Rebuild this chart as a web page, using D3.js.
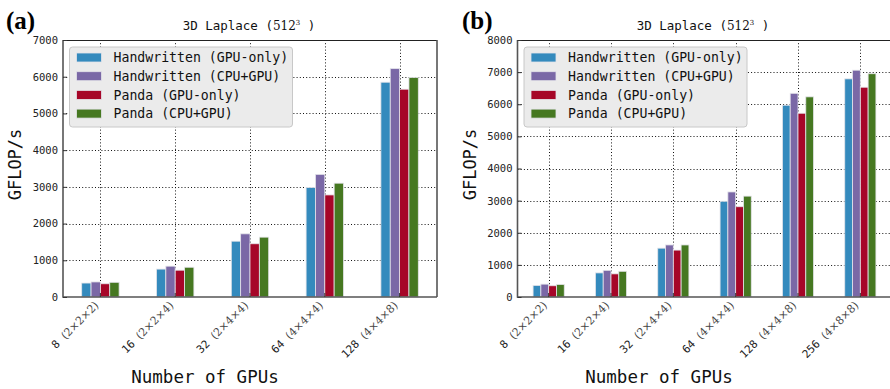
<!DOCTYPE html>
<html>
<head>
<meta charset="utf-8">
<script src="https://cdn.jsdelivr.net/npm/d3@7"></script>
<style>
  body { margin: 0; background: #fff; }
  svg { display: block; }
</style>
</head>
<body>
<svg id="chart" width="890" height="389"></svg>
<script>
// series shared by both panels
const series = ['Handwritten (GPU-only)', 'Handwritten (CPU+GPU)', 'Panda (GPU-only)', 'Panda (CPU+GPU)']
const colors = ['#348ABD', '#7A68A6', '#A60628', '#467821']

// panel (a)
const gpusA = ['8', '16', '32', '64', '128']
const shapesA = ['(2×2×2)', '(2×2×4)', '(2×4×4)', '(4×4×4)', '(4×4×8)']
const handGpuA = [380, 760, 1520, 2980, 5850]
const handCpuGpuA = [410, 840, 1720, 3340, 6220]
const pandaGpuA = [360, 730, 1450, 2780, 5660]
const pandaCpuGpuA = [400, 810, 1630, 3100, 5980]
const yTicksA = [0, 1000, 2000, 3000, 4000, 5000, 6000, 7000]

// panel (b)
const gpusB = ['8', '16', '32', '64', '128', '256']
const shapesB = ['(2×2×2)', '(2×2×4)', '(2×4×4)', '(4×4×4)', '(4×4×8)', '(4×8×8)']
const handGpuB = [360, 750, 1520, 2980, 5970, 6790]
const handCpuGpuB = [400, 830, 1620, 3270, 6340, 7060]
const pandaGpuB = [350, 720, 1460, 2810, 5720, 6530]
const pandaCpuGpuB = [390, 800, 1620, 3140, 6230, 6950]
const yTicksB = [0, 1000, 2000, 3000, 4000, 5000, 6000, 7000, 8000]

const svg = d3.select('#chart')
const mono = '"DejaVu Sans Mono", monospace'
const serif = '"DejaVu Serif", serif'

function drawPanel(cfg) {
  const g = svg.append('g')
  const { left, right, top, bottom } = cfg

  const x = d3.scaleBand().domain(cfg.gpus).range([left, right]).padding(0)
  const bw = x.bandwidth()
  const xs = d3.scaleBand().domain(series).range([-bw / 4, bw / 4]).padding(0)
  const y = d3.scaleLinear().domain([0, d3.max(cfg.yTicks)]).range([bottom, top])

  const clipId = 'clip-' + cfg.name
  svg.append('clipPath').attr('id', clipId)
    .append('rect').attr('x', left).attr('y', top - 1).attr('width', right - left).attr('height', bottom - top + 2)

  // grid
  const grid = g.append('g').attr('clip-path', `url(#${clipId})`)
    .attr('stroke', '#111').attr('stroke-width', 1).attr('stroke-dasharray', '1,2.2')
  grid.selectAll('.hg').data(cfg.yTicks.slice(1, -1)).enter().append('line')
    .attr('x1', left).attr('x2', right)
    .attr('y1', d => Math.round(y(d)) + 0.5).attr('y2', d => Math.round(y(d)) + 0.5)
  grid.selectAll('.vg').data(cfg.gpus).enter().append('line')
    .attr('x1', d => Math.round(x(d) + bw / 2) + 0.5).attr('x2', d => Math.round(x(d) + bw / 2) + 0.5)
    .attr('y1', top).attr('y2', bottom)

  // bars
  const rows = cfg.gpus.map((k, i) => ({ key: k, values: cfg.values.map(v => v[i]) }))
  const groups = g.append('g').attr('clip-path', `url(#${clipId})`)
    .selectAll('.grp').data(rows).enter().append('g')
    .attr('transform', d => `translate(${x(d.key) + bw / 2},0)`)
  groups.selectAll('rect').data(d => d.values.map((v, j) => ({ s: series[j], v, j })))
    .enter().append('rect')
    .attr('x', d => xs(d.s))
    .attr('width', xs.bandwidth())
    .attr('y', d => y(d.v))
    .attr('height', d => y(0) - y(d.v))
    .attr('fill', d => colors[d.j])
    .attr('stroke', '#e4e4ea')
    .attr('stroke-width', 0.8)

  // frame
  g.append('line').attr('x1', left).attr('x2', right).attr('y1', top + 0.5).attr('y2', top + 0.5)
    .attr('stroke', '#222').attr('stroke-width', 1)
  g.append('line').attr('x1', left).attr('x2', right).attr('y1', bottom).attr('y2', bottom)
    .attr('stroke', '#555').attr('stroke-width', 1.6)
  g.append('line').attr('x1', left).attr('x2', left).attr('y1', top).attr('y2', bottom + 0.8)
    .attr('stroke', '#555').attr('stroke-width', 1.6)
  if (right < 889) {
    g.append('line').attr('x1', right).attr('x2', right).attr('y1', top).attr('y2', bottom)
      .attr('stroke', '#555').attr('stroke-width', 1.6)
  }

  // y axis
  const yAxis = g.append('g').attr('transform', `translate(${left},0)`)
    .call(d3.axisLeft(y).tickValues(cfg.yTicks).tickSize(-4).tickPadding(5).tickFormat(d3.format('d')))
  yAxis.select('.domain').remove()
  yAxis.selectAll('.tick line').attr('stroke', '#333')
  yAxis.selectAll('.tick text').attr('font-family', mono).attr('font-size', 10.5).attr('fill', '#222')

  // x ticks (inward)
  g.append('g').selectAll('line').data(cfg.gpus).enter().append('line')
    .attr('x1', d => x(d) + bw / 2).attr('x2', d => x(d) + bw / 2)
    .attr('y1', bottom).attr('y2', bottom - 4).attr('stroke', '#333')

  // x tick labels
  const xl = g.append('g').selectAll('text').data(cfg.gpus).enter().append('text')
    .attr('transform', d => `translate(${x(d) + bw / 2 - 1},${bottom + 9}) rotate(-45)`)
    .attr('text-anchor', 'end')
    .attr('font-size', 11)
  xl.append('tspan').attr('font-family', mono).attr('fill', '#222').text(d => d + ' ')
  xl.append('tspan').attr('font-family', serif).attr('font-size', 11).attr('fill', '#444')
    .text((d, i) => cfg.shapes[i])

  // title
  const t = g.append('text').attr('x', cfg.titleX).attr('y', 30)
    .attr('text-anchor', 'middle').attr('font-family', mono).attr('font-size', 12.5).attr('fill', '#111')
  t.append('tspan').text('3D Laplace (')
  t.append('tspan').attr('font-family', serif).attr('font-size', 12).text('512')
  t.append('tspan').attr('font-family', serif).attr('font-size', 7).attr('dy', -5).text('3')
  t.append('tspan').attr('dy', 5).text(' )')

  // panel letter
  g.append('text').attr('x', cfg.letterX).attr('y', 29)
    .attr('font-family', '"Liberation Serif", "Times New Roman", serif').attr('font-weight', 'bold')
    .attr('font-size', 25).attr('fill', '#000').text(cfg.letter)

  // axis labels
  g.append('text').attr('transform', `translate(${cfg.yLabelX},${(top + bottom) / 2 - 4}) rotate(-90)`)
    .attr('text-anchor', 'middle').attr('font-family', mono).attr('font-size', 17).attr('fill', '#111')
    .text('GFLOP/s')
  g.append('text').attr('x', cfg.xLabelX).attr('y', 383)
    .attr('text-anchor', 'middle').attr('font-family', mono).attr('font-size', 17.5).attr('fill', '#111')
    .text('Number of GPUs')

  // legend
  const lx = left + 6.5, ly = 47
  const leg = g.append('g')
  leg.append('rect').attr('x', lx).attr('y', ly).attr('width', 223).attr('height', 80).attr('rx', 3)
    .attr('fill', '#ebebeb').attr('stroke', '#c8c8c8').attr('stroke-width', 1)
  const items = leg.selectAll('.item').data(series).enter().append('g')
    .attr('transform', (d, i) => `translate(${lx},${ly + 10.5 + i * 18.7})`)
  items.append('rect').attr('x', 7).attr('y', -4.5).attr('width', 25).attr('height', 9)
    .attr('fill', (d, i) => colors[i]).attr('stroke', '#e4e4ea').attr('stroke-width', 0.8)
  items.append('text').attr('x', 44).attr('y', 0).attr('dy', '0.35em')
    .attr('font-family', mono).attr('font-size', 13.2).attr('fill', '#111').text(d => d)
}

drawPanel({
  name: 'a', letter: '(a)', letterX: 6,
  left: 63, right: 437, top: 40, bottom: 297,
  gpus: gpusA, shapes: shapesA, yTicks: yTicksA,
  values: [handGpuA, handCpuGpuA, pandaGpuA, pandaCpuGpuA],
  yLabelX: 21, xLabelX: 205, titleX: 249
})

drawPanel({
  name: 'b', letter: '(b)', letterX: 462,
  left: 517.5, right: 891.5, top: 40, bottom: 297,
  gpus: gpusB, shapes: shapesB, yTicks: yTicksB,
  values: [handGpuB, handCpuGpuB, pandaGpuB, pandaCpuGpuB],
  yLabelX: 476, xLabelX: 659, titleX: 703
})
</script>
</body>
</html>
